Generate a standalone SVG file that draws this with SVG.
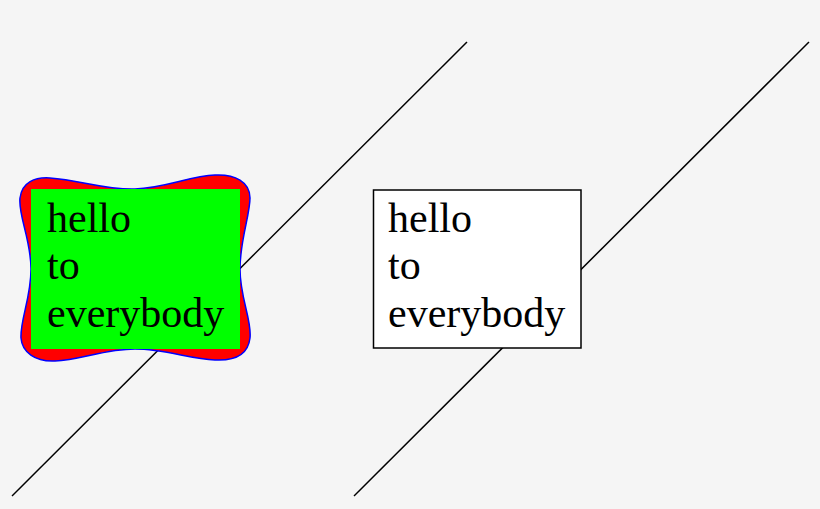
<svg xmlns="http://www.w3.org/2000/svg" width="820" height="509" viewBox="0 0 820 509">
<style>
.ln{stroke:#000;stroke-width:1.5;fill:none}
.t{font-family:"Liberation Serif","DejaVu Serif",serif;font-size:42px;fill:#000}
</style>
<rect width="820" height="509" fill="#f5f5f5"/>
<g id="connectors">
<line class="ln" x1="12" y1="496" x2="467" y2="42"/>
<line class="ln" x1="354" y1="496" x2="809" y2="42"/>
</g>
<g id="node-left">
<path d="M31,269 C31,240 18,215 20,198 C22,182 35,177 50,178 C80,180 105,190 135,189 C165,188 190,176 215,175 C235,174 250,182 250,198 C250,215 240,240 240,269 C240,298 252,320 250,338 C248,355 235,361 215,360 C190,359 165,349 135,349 C105,349 80,360 55,361 C35,362 22,352 21,338 C20,320 31,298 31,269 Z" fill="#ff0000" stroke="#0000ff" stroke-width="1.5"/>
<rect x="31" y="189" width="209" height="160" fill="#00ff00"/>
<text class="t" x="47" y="232">hello</text>
<text class="t" x="47" y="279">to</text>
<text class="t" x="47" y="327">everybody</text>
</g>
<g id="node-right">
<rect x="373.5" y="190" width="207.5" height="158" fill="#fff" stroke="#000" stroke-width="1.5"/>
<text class="t" x="388" y="232">hello</text>
<text class="t" x="388" y="279">to</text>
<text class="t" x="388" y="327">everybody</text>
</g>
</svg>
